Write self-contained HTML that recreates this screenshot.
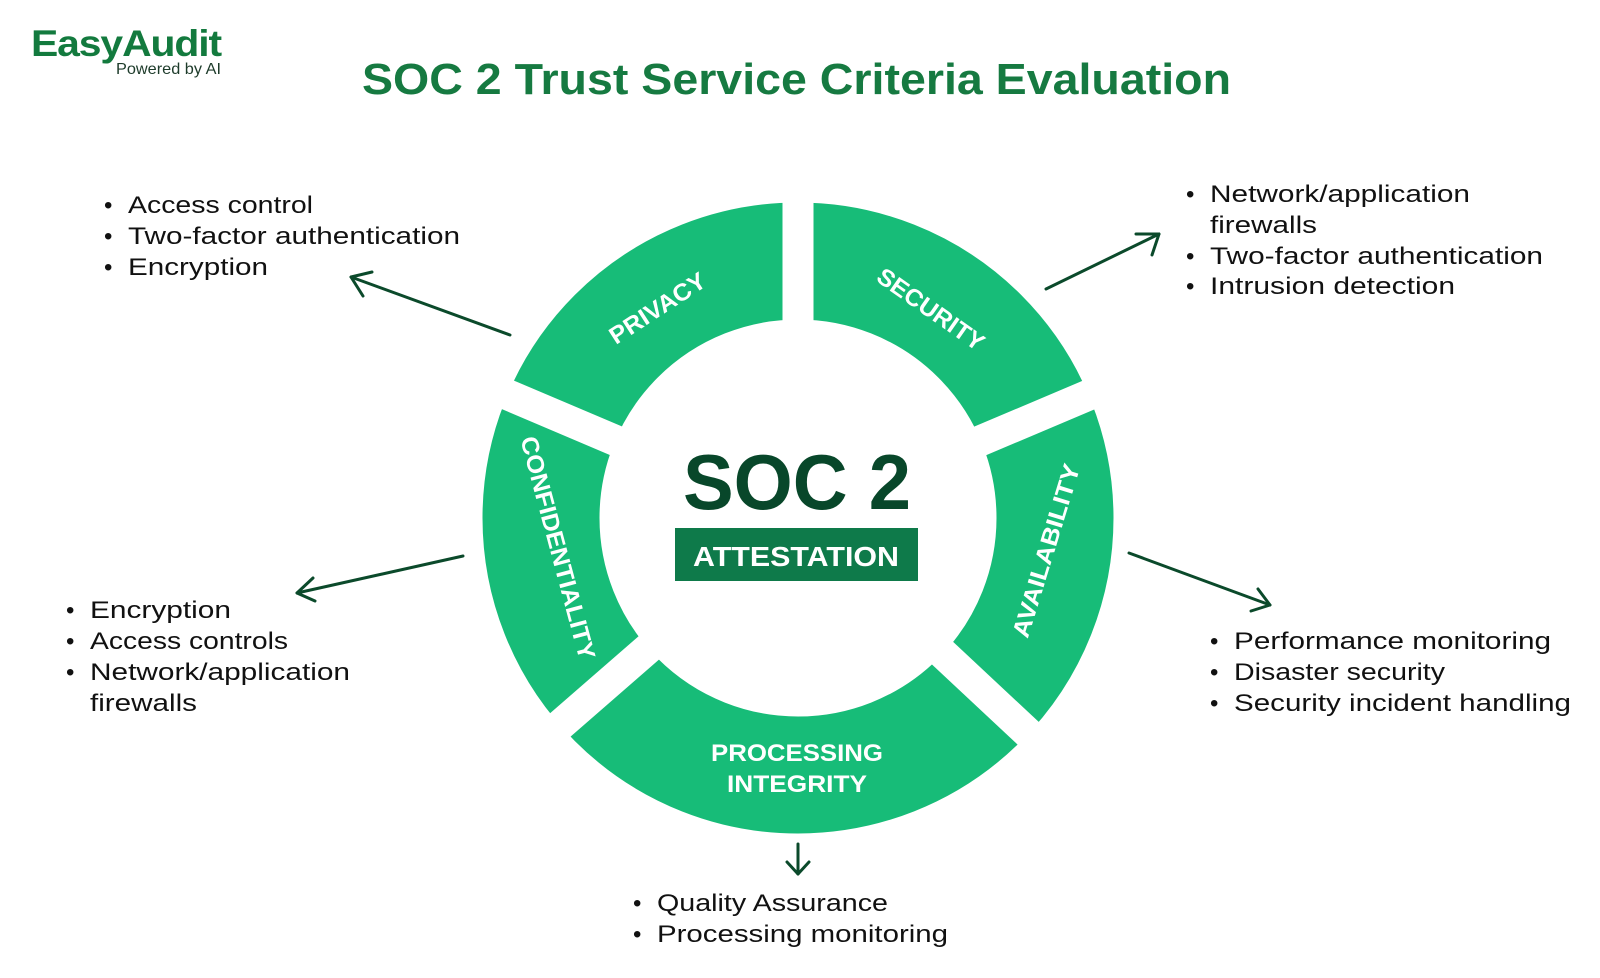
<!DOCTYPE html>
<html><head><meta charset="utf-8"><style>
html,body{margin:0;padding:0;background:#fff;}
svg{display:block;}
text{font-family:"Liberation Sans",sans-serif;}
</style></head><body>
<svg width="1600" height="978" viewBox="0 0 1600 978" xmlns="http://www.w3.org/2000/svg">
<!-- logo -->
<text x="31" y="56" font-size="37" font-weight="bold" fill="#137a3e" textLength="190" lengthAdjust="spacingAndGlyphs" letter-spacing="-1">EasyAudit</text>
<text x="116" y="74" font-size="16" fill="#1d3b2a" textLength="105" lengthAdjust="spacingAndGlyphs">Powered by AI</text>
<!-- title -->
<text x="362" y="94" font-size="44" font-weight="bold" fill="#167a41" textLength="869" lengthAdjust="spacingAndGlyphs">SOC 2 Trust Service Criteria Evaluation</text>

<!-- ring -->
<circle cx="798" cy="518" r="257" fill="none" stroke="#17bc78" stroke-width="117"/>
<g stroke="#fff" stroke-width="31" stroke-linecap="butt">
<line x1="798" y1="518" x2="798" y2="180"/>
<line x1="798" y1="518" x2="1110" y2="386"/>
<line x1="798" y1="518" x2="1045" y2="749"/>
<line x1="798" y1="518" x2="543" y2="740"/>
<line x1="798" y1="518" x2="487" y2="386"/>
</g>
<circle cx="798" cy="518" r="198" fill="#fff"/>

<!-- segment labels -->
<g fill="#fff" font-size="24" font-weight="bold" text-anchor="middle">
<text transform="translate(662,315) rotate(-33)" textLength="110" lengthAdjust="spacingAndGlyphs">PRIVACY</text>
<text transform="translate(926,316) rotate(35)" textLength="125" lengthAdjust="spacingAndGlyphs">SECURITY</text>
<text transform="translate(550,550) rotate(75)" textLength="230" lengthAdjust="spacingAndGlyphs">CONFIDENTIALITY</text>
<text transform="translate(1054,553) rotate(-73)" textLength="180" lengthAdjust="spacingAndGlyphs">AVAILABILITY</text>
<text x="797" y="761" textLength="172" lengthAdjust="spacingAndGlyphs">PROCESSING</text>
<text x="797" y="792" textLength="140" lengthAdjust="spacingAndGlyphs">INTEGRITY</text>
</g>

<!-- center -->
<text x="797" y="509" font-size="78" font-weight="bold" fill="#08472a" text-anchor="middle" textLength="228" lengthAdjust="spacingAndGlyphs">SOC 2</text>
<rect x="675" y="528" width="243" height="53" fill="#0e7a4a"/>
<text x="796" y="566" font-size="28" font-weight="bold" fill="#fff" text-anchor="middle" textLength="206" lengthAdjust="spacingAndGlyphs">ATTESTATION</text>

<!-- arrows -->
<g stroke="#0b4a2b" stroke-width="3" fill="none" stroke-linecap="round" stroke-linejoin="round">
<line x1="510" y1="335" x2="351" y2="277"/><polyline points="363,296 351,277 372,272"/>
<line x1="1046" y1="289" x2="1159" y2="234"/><polyline points="1136,234 1159,234 1152,255"/>
<line x1="463" y1="556" x2="297" y2="593"/><polyline points="313,578 297,593 315,601"/>
<line x1="1129" y1="553" x2="1270" y2="605"/><polyline points="1258,589 1270,605 1251,611"/>
<line x1="798" y1="844" x2="798" y2="874"/><polyline points="787,862 798,874 809,862"/>
</g>

<!-- lists -->
<g font-size="24" fill="#111">
<text x="104" y="213">•</text><text x="128" y="213" textLength="185" lengthAdjust="spacingAndGlyphs">Access control</text>
<text x="104" y="244">•</text><text x="128" y="244" textLength="332" lengthAdjust="spacingAndGlyphs">Two-factor authentication</text>
<text x="104" y="275">•</text><text x="128" y="275" textLength="140" lengthAdjust="spacingAndGlyphs">Encryption</text>

<text x="1186" y="202">•</text><text x="1210" y="202" textLength="260" lengthAdjust="spacingAndGlyphs">Network/application</text>
<text x="1210" y="233" textLength="107" lengthAdjust="spacingAndGlyphs">firewalls</text>
<text x="1186" y="264">•</text><text x="1210" y="264" textLength="333" lengthAdjust="spacingAndGlyphs">Two-factor authentication</text>
<text x="1186" y="294">•</text><text x="1210" y="294" textLength="245" lengthAdjust="spacingAndGlyphs">Intrusion detection</text>

<text x="66" y="618">•</text><text x="90" y="618" textLength="141" lengthAdjust="spacingAndGlyphs">Encryption</text>
<text x="66" y="649">•</text><text x="90" y="649" textLength="198" lengthAdjust="spacingAndGlyphs">Access controls</text>
<text x="66" y="680">•</text><text x="90" y="680" textLength="260" lengthAdjust="spacingAndGlyphs">Network/application</text>
<text x="90" y="711" textLength="107" lengthAdjust="spacingAndGlyphs">firewalls</text>

<text x="1210" y="649">•</text><text x="1234" y="649" textLength="317" lengthAdjust="spacingAndGlyphs">Performance monitoring</text>
<text x="1210" y="680">•</text><text x="1234" y="680" textLength="211" lengthAdjust="spacingAndGlyphs">Disaster security</text>
<text x="1210" y="711">•</text><text x="1234" y="711" textLength="337" lengthAdjust="spacingAndGlyphs">Security incident handling</text>

<text x="633" y="911">•</text><text x="657" y="911" textLength="231" lengthAdjust="spacingAndGlyphs">Quality Assurance</text>
<text x="633" y="942">•</text><text x="657" y="942" textLength="291" lengthAdjust="spacingAndGlyphs">Processing monitoring</text>
</g>
</svg>
</body></html>
